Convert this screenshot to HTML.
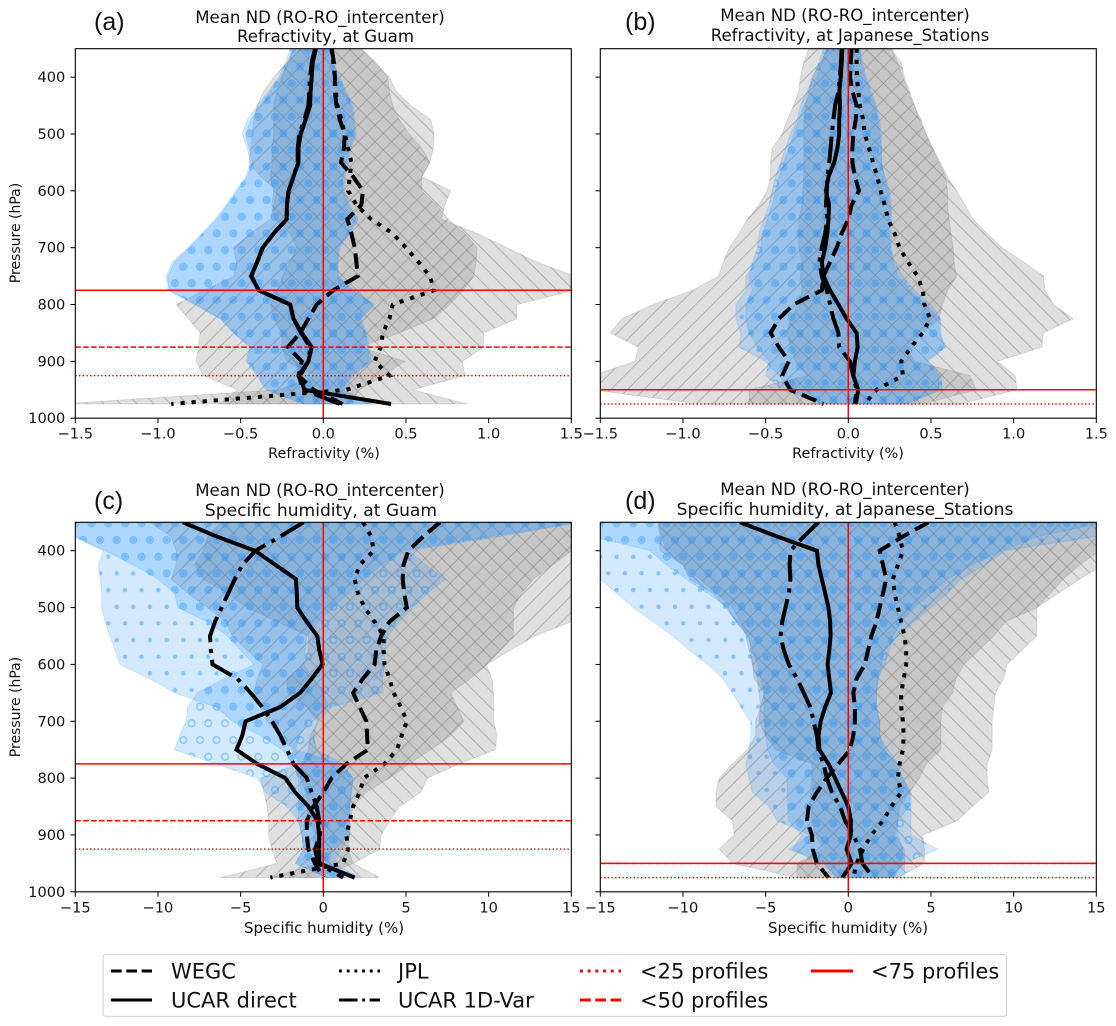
<!DOCTYPE html>
<html lang="en">
<head>
<meta charset="utf-8">
<title>Mean ND RO-RO intercenter profiles</title>
<style>
html,body{margin:0;padding:0;background:#fff;}
body{width:1116px;height:1026px;overflow:hidden;}
svg{display:block;}
text{font-family:"DejaVu Sans","Liberation Sans",sans-serif;fill:#111;}
.panel-tag{font-family:"Liberation Sans",sans-serif;font-size:25px;}
.title{font-size:16.6px;text-anchor:middle;}
.title-big{font-size:17.1px;text-anchor:middle;}
.leg{font-size:21px;}
.axis-label{font-size:14.4px;text-anchor:middle;}
.axis-label-wide{font-size:15px;text-anchor:middle;}
.axis-label-y{font-size:14px;text-anchor:middle;}
.tick{font-size:14.6px;}
</style>
</head>
<body>
<svg id="chart" xmlns="http://www.w3.org/2000/svg" width="1116" height="1026" viewBox="0 0 1116 1026">
<defs>
<pattern id="hatch-slash" patternUnits="userSpaceOnUse" width="16.67" height="16.67">
<path d="M-2,18.67 L18.67,-2 M-2,2 L2,-2 M14.67,18.67 L18.67,14.67" stroke="rgba(110,110,110,.42)" stroke-width="1" fill="none"/>
</pattern>
<pattern id="hatch-back" patternUnits="userSpaceOnUse" width="16.67" height="16.67">
<path d="M-2,-2 L18.67,18.67 M-2,14.67 L2,18.67 M14.67,-2 L18.67,2" stroke="rgba(110,110,110,.42)" stroke-width="1" fill="none"/>
</pattern>
<g id="ring-tile"><circle cx="0" cy="0" r="3.3" fill="none" stroke="rgba(30,144,255,.4)" stroke-width="1.5"/><circle cx="16.67" cy="0" r="3.3" fill="none" stroke="rgba(30,144,255,.4)" stroke-width="1.5"/><circle cx="0" cy="33.33" r="3.3" fill="none" stroke="rgba(30,144,255,.4)" stroke-width="1.5"/><circle cx="16.67" cy="33.33" r="3.3" fill="none" stroke="rgba(30,144,255,.4)" stroke-width="1.5"/><circle cx="8.33" cy="16.67" r="3.3" fill="none" stroke="rgba(30,144,255,.4)" stroke-width="1.5"/></g>
<g id="dot-tile"><circle cx="0" cy="0" r="2.2" fill="rgba(30,144,255,.42)"/><circle cx="16.67" cy="0" r="2.2" fill="rgba(30,144,255,.42)"/><circle cx="0" cy="33.33" r="2.2" fill="rgba(30,144,255,.42)"/><circle cx="16.67" cy="33.33" r="2.2" fill="rgba(30,144,255,.42)"/><circle cx="8.33" cy="16.67" r="2.2" fill="rgba(30,144,255,.42)"/></g>
<pattern id="ring-ab" patternUnits="userSpaceOnUse" width="16.67" height="33.33" patternTransform="translate(183.3 266.7)"><use href="#ring-tile"/></pattern>
<pattern id="dot-ab" patternUnits="userSpaceOnUse" width="16.67" height="33.33" patternTransform="translate(183.3 266.7)"><use href="#dot-tile"/></pattern>
<pattern id="ring-c" patternUnits="userSpaceOnUse" width="16.67" height="33.33" patternTransform="translate(183.3 740)"><use href="#ring-tile"/></pattern>
<pattern id="dot-c" patternUnits="userSpaceOnUse" width="16.67" height="33.33" patternTransform="translate(183.3 740)"><use href="#dot-tile"/></pattern>
<pattern id="ring-d" patternUnits="userSpaceOnUse" width="16.67" height="33.33" patternTransform="translate(750 623.3)"><use href="#ring-tile"/></pattern>
<pattern id="dot-d" patternUnits="userSpaceOnUse" width="16.67" height="33.33" patternTransform="translate(750 623.3)"><use href="#dot-tile"/></pattern>
</defs>

<text class="panel-tag" x="94" y="30">(a)</text>
<text class="panel-tag" x="625" y="30">(b)</text>
<text class="panel-tag" x="94" y="509">(c)</text>
<text class="panel-tag" x="625" y="509">(d)</text>

<text class="title" x="320" y="23">Mean ND (RO-RO_intercenter)</text>
<text class="title" x="325.5" y="42">Refractivity, at Guam</text>
<text class="title" x="845" y="21">Mean ND (RO-RO_intercenter)</text>
<text class="title" x="850" y="41">Refractivity, at Japanese_Stations</text>
<text class="title" x="320" y="496">Mean ND (RO-RO_intercenter)</text>
<text class="title-big" x="321" y="516">Specific humidity, at Guam</text>
<text class="title" x="845" y="495">Mean ND (RO-RO_intercenter)</text>
<text class="title-big" x="845" y="515">Specific humidity, at Japanese_Stations</text>

<text class="axis-label" x="324" y="458">Refractivity (%)</text>
<text class="axis-label" x="848" y="458">Refractivity (%)</text>
<text class="axis-label-wide" x="324" y="933">Specific humidity (%)</text>
<text class="axis-label-wide" x="848" y="933">Specific humidity (%)</text>
<text class="axis-label-y" transform="translate(20 233) rotate(-90)">Pressure (hPa)</text>
<text class="axis-label-y" transform="translate(20 707) rotate(-90)">Pressure (hPa)</text>

<g id="plots"></g>

<g>
<rect x="103" y="954.5" width="903.5" height="62" rx="3" ry="3" fill="#fff" stroke="#d6d6d6" stroke-width="1.2"/>
<line x1="111" y1="971" x2="152" y2="971" stroke="#000" stroke-width="2.9" stroke-dasharray="10.7 4.6"/>
<text class="leg" x="171" y="978.5">WEGC</text>
<line x1="111" y1="1000" x2="152" y2="1000" stroke="#000" stroke-width="2.9"/>
<text class="leg" x="171" y="1007.5">UCAR direct</text>
<line x1="339" y1="971" x2="380" y2="971" stroke="#000" stroke-width="2.9" stroke-dasharray="2.9 4.8"/>
<text class="leg" x="398" y="978.5">JPL</text>
<line x1="339" y1="1000" x2="380" y2="1000" stroke="#000" stroke-width="2.9" stroke-dasharray="18.6 4.6 2.9 4.6"/>
<text class="leg" x="398" y="1007.5">UCAR 1D-Var</text>
<line x1="580" y1="971" x2="621" y2="971" stroke="#f00" stroke-width="2.9" stroke-dasharray="2.9 4.8"/>
<text class="leg" x="640" y="978.5">&lt;25 profiles</text>
<line x1="580" y1="1000" x2="621" y2="1000" stroke="#f00" stroke-width="2.9" stroke-dasharray="10.7 4.6"/>
<text class="leg" x="640" y="1007.5">&lt;50 profiles</text>
<line x1="811" y1="971" x2="853" y2="971" stroke="#f00" stroke-width="2.9"/>
<text class="leg" x="871" y="978.5">&lt;75 profiles</text>
</g>
</svg>

<script>
// Shared vertical axis
const pressureLevels = [350,375,400,425,450,475,500,525,550,575,600,625,650,675,700,725,750,775,800,825,850,875,900,925,950,975];
const pressureTicks = [400,500,600,700,800,900,1000];
const refractivityTicks = [-1.5,-1.0,-0.5,0.0,0.5,1.0,1.5];
const refractivityTickLabels = ["\u22121.5","\u22121.0","\u22120.5","0.0","0.5","1.0","1.5"];
const humidityTicks = [-15,-10,-5,0,5,10,15];
const humidityTickLabels = ["\u221215","\u221210","\u22125","0","5","10","15"];

// Panel (a) Refractivity at Guam
const aWegc = [.05,.065,.07,.07,.08,.10,.13,.125,.107,.18,.24,.23,.145,.17,.19,.20,.208,.06,-.04,-.09,-.14,-.215,-.13,-.15,-.06,.117];
const aDirect = [-.045,-.065,-.07,-.077,-.08,-.107,-.137,-.15,-.15,-.18,-.21,-.22,-.222,-.30,-.367,-.40,-.437,-.39,-.2,-.18,-.13,-.07,-.09,-.14,-.115,.41];
const aJpl = [.05,.06,.07,.075,.085,.11,.13,.15,.17,.16,.15,.20,.29,.42,.50,.575,.645,.67,.42,.40,.36,.347,.31,.40,.14,-.92];
const aVar = [-.05,-.07,-.08,-.085,-.09,-.115,-.145,-.155,-.155,-.18,-.21,-.22,-.22,-.30,-.365,-.40,-.435,-.39,-.2,-.18,-.135,-.08,-.09,-.15,-.12,.10];
const aSlashLo = [-.14,-.22,-.30,-.36,-.40,-.42,-.43,-.44,-.45,-.38,-.28,-.30,-.32,-.44,-.545,-.525,-.54,-.72,-.89,-.815,-.745,-.755,-.77,-.725,-.52,-.625];
const aSlashHi = [.23,.32,.39,.40,.42,.46,.52,.595,.645,.595,.595,.685,.755,.855,.93,.925,.91,.845,.765,.665,.46,.22,.495,.36,.22,.16];
const aBackLo = [-.18,-.22,-.25,-.28,-.30,-.30,-.30,-.31,-.31,-.32,-.30,-.31,-.29,-.20,-.16,-.20,-.245,-.28,-.32,-.30,-.25,-.25,-.22,-.05,-.26,-1.6];
const aBackHi = [.23,.31,.40,.44,.53,.65,.67,.665,.645,.595,.77,.735,.715,.93,1.11,1.29,1.52,1.52,1.17,1.17,.97,.97,.84,.857,.54,.87];
const aRingLo = [-.18,-.21,-.26,-.32,-.38,-.44,-.47,-.45,-.43,-.46,-.52,-.58,-.645,-.725,-.81,-.90,-.94,-.94,-.78,-.625,-.545,-.445,-.47,-.40,-.35,-.12];
const aRingHi = [.04,.04,.09,.13,.17,.18,.19,.16,.14,.12,.115,.15,.20,.15,.09,.085,.09,.18,.31,.23,.26,.28,.29,.18,.12,.30];
const aDotLo = [-.20,-.23,-.27,-.33,-.40,-.46,-.49,-.46,-.44,-.47,-.53,-.59,-.655,-.735,-.82,-.91,-.95,-.93,-.77,-.62,-.54,-.44,-.46,-.39,-.34,-.12];
const aDotHi = [.05,.06,.10,.14,.18,.19,.20,.17,.15,.13,.125,.16,.21,.16,.10,.09,.09,.18,.30,.22,.25,.27,.28,.17,.11,.28];

// Panel (b) Refractivity at Japanese stations
const bWegc = [.02,.015,.01,.025,.05,.045,.03,.025,.025,.04,.065,.02,0,-.04,-.07,-.11,-.15,-.16,-.33,-.42,-.47,-.42,-.36,-.40,-.35,-.15];
const bDirect = [-.036,-.04,-.046,-.054,-.05,-.055,-.055,-.066,-.085,-.12,-.135,-.117,-.12,-.127,-.14,-.16,-.15,-.11,-.06,-.01,.05,.056,.04,.03,.06,.046];
const bJpl = [.05,.05,.052,.06,.07,.09,.10,.125,.15,.175,.195,.22,.24,.28,.31,.36,.42,.45,.46,.495,.45,.38,.32,.33,.17,.10];
const bVar = [-.04,-.045,-.05,-.06,-.08,-.09,-.10,-.107,-.115,-.127,-.13,-.135,-.127,-.14,-.16,-.175,-.16,-.13,-.11,-.09,-.06,-.055,.01,.03,.05,.04];
const bSlashLo = [-.24,-.27,-.29,-.30,-.33,-.37,-.40,-.46,-.47,-.47,-.49,-.54,-.61,-.66,-.72,-.755,-.785,-.94,-1.18,-1.37,-1.44,-1.27,-1.29,-1.55,-1.55,-.90];
const bSlashHi = [.26,.30,.33,.36,.40,.43,.47,.51,.55,.59,.60,.60,.61,.62,.635,.64,.655,.60,.57,.55,.45,.35,.40,.735,.775,.45];
const bBackLo = [-.13,-.17,-.22,-.24,-.26,-.27,-.27,-.27,-.27,-.27,-.275,-.28,-.30,-.30,-.30,-.28,-.29,-.28,-.30,-.35,-.37,-.35,-.32,-.25,-.60,-.60];
const bBackHi = [.26,.32,.34,.37,.40,.44,.47,.51,.555,.60,.655,.705,.755,.84,.93,1.06,1.18,1.19,1.24,1.36,1.18,1.17,.90,1.01,1.02,.675];
const bRingLo = [-.15,-.18,-.21,-.25,-.29,-.31,-.35,-.38,-.41,-.44,-.46,-.48,-.51,-.54,-.55,-.58,-.60,-.58,-.62,-.62,-.60,-.55,-.48,-.50,-.40,-.15];
const bRingHi = [.07,.08,.10,.13,.16,.18,.19,.20,.20,.22,.25,.26,.26,.26,.26,.28,.33,.40,.50,.56,.56,.58,.47,.55,.55,.35];
const bDotLo = [-.13,-.16,-.19,-.22,-.27,-.30,-.33,-.36,-.39,-.42,-.44,-.46,-.49,-.52,-.53,-.56,-.62,-.62,-.68,-.68,-.65,-.66,-.50,-.42,-.35,-.15];
const bDotHi = [.07,.085,.11,.14,.17,.19,.20,.20,.20,.22,.24,.25,.25,.25,.25,.27,.30,.37,.47,.55,.55,.59,.48,.56,.57,.35];

// Panel (c) Specific humidity at Guam
const cWegc = [7.05,6.05,5.15,4.85,4.8,4.9,5.05,4,3.5,3.2,3.1,2.4,1.8,2.2,2.6,2.65,2.7,1.4,.5,0,-.6,-1,-1,-.9,-.5,0];
const cDirect = [-8.5,-6.45,-4.13,-2.9,-1.65,-1.6,-1.57,-1,-.36,-.24,-.04,-.7,-1.4,-2.6,-4.7,-4.9,-5.25,-4,-2.3,-1.7,-.9,-.35,-.25,-.25,-.25,1.9];
const cJpl = [2.4,2.9,3.05,2.2,1.9,2.1,2.5,3.1,3.65,3.65,3.7,4,4.25,4.7,5.05,4.75,4.45,3.7,2.45,2.2,1.8,1.6,1.4,1.5,1.2,-3.2];
const cVar = [-1.2,-2.6,-4.1,-4.9,-5.35,-5.75,-6.15,-6.55,-6.85,-6.8,-6.7,-5.2,-4.4,-3.7,-3.1,-2.6,-2.2,-1.8,-1,-.7,-.4,-.25,-.2,-.5,-.3,1.2];
const cSlashLo = [-10.5,-9.2,-8.9,-8.9,-9.2,-8.2,-7,-5.9,-5.5,-4.6,-3.65,-4,-4.2,-3.8,-3.4,-2.6,-1.8,-1.5,-3.8,-3.6,-3.4,-3.3,-3.3,-3.1,-2.8,-6.2];
const cSlashHi = [15.5,15.5,15.5,15.5,15.5,15.5,15.5,15,12.8,11.3,9.9,8.9,7.7,8.1,8.5,7.7,6.5,5.2,4,2.6,1.8,1.6,1.6,1.5,1.8,-.4];
const cBackLo = [-6.2,-7,-7.25,-7.8,-7.25,-5.8,-4.6,-2.8,-.9,-.9,-1.2,-2.2,-2.2,-1,-.3,-.8,-.9,-1.3,-1.4,-1,-1,-.9,-.4,0,-.3,-3.2];
const cBackHi = [15.5,15.5,15,13.9,12.7,12,11.5,11.5,11.5,10.7,9.85,10.2,10.3,10.3,10.3,10.5,10.4,8.2,6.3,5.9,4.6,4,3.5,3.4,1.8,3.4];
const cRingLo = [-15.5,-15.2,-13.2,-11.5,-10,-9,-8.8,-7,-5.8,-5,-4.2,-6,-7.6,-8.2,-8.3,-8.7,-9,-6.5,-4,-3.5,-2.2,-1.5,-1.3,-1.2,-1.7,.2];
const cRingHi = [15.5,10.7,5.2,6.2,7.4,6.3,5.4,4.6,3.9,3.7,3.7,3.6,3.6,.5,-.3,-.6,-.4,1.2,1.8,1.7,1.6,1.6,1.6,1.1,.6,2.2];
const cDotLo = [-15.5,-15,-13.3,-13.6,-13.5,-13.4,-13.4,-13.2,-12.9,-12.6,-12.3,-10.5,-9,-6.5,-5.5,-3.8,-2.5,-1.8,-1.5,-1.5,-1.5,-1.5,-1.3,-1.2,-1.7,.2];
const cDotHi = [15.5,10,4.8,3.5,2.5,1.5,.6,-.3,-1,-1.1,-1.2,-.6,0,.3,-.9,-1.4,-1.7,1,1.8,1.7,1.6,1.5,1.4,.5,.4,1.3];

// Panel (d) Specific humidity at Japanese stations
const dWegc = [4.85,3.3,1.9,2.1,2.3,2.1,1.9,1.7,1.4,1.2,1,.5,.3,.4,.4,.3,.1,-.6,-1.3,-1.9,-2.4,-2.5,-2.2,-2.15,-1.9,-1.2];
const dDirect = [-6.55,-4.3,-1.9,-1.8,-1.6,-1.4,-1.2,-1.1,-1.07,-1.15,-1.25,-1.15,-1.05,-1.4,-1.67,-1.8,-1.75,-1.2,-.8,-.4,0,.15,.15,-.1,.2,-.35];
const dJpl = [2.8,3.1,3.3,3,2.7,2.8,3,3.2,3.4,3.5,3.5,3.35,3.2,3.2,3.3,3.35,3.3,3.1,3,3.2,2.6,2.1,1.4,.9,.5,.3];
const dVar = [-1.8,-2.7,-3.5,-3.55,-3.5,-3.6,-3.8,-4,-4.1,-3.9,-3.6,-3.1,-2.7,-2.3,-2.1,-1.9,-1.8,-1.5,-1.3,-1,-.5,-.2,.3,.7,.85,1.5];
const dSlashLo = [-11.5,-11.3,-11,-10,-9,-8,-7,-6.5,-6.2,-6,-5.8,-5.5,-5.4,-5.3,-5.6,-5.6,-6.1,-7,-7.8,-8,-8,-7,-6.9,-7.8,-7,-3.1];
const dSlashHi = [15.5,15.5,15.2,14,13,12.2,11.4,9.5,8.8,7.9,7,6.5,6.3,5.7,5.6,5.6,5.6,4.7,4.3,3.7,3.1,3,2.8,3.4,3.4,2.5];
const dBackLo = [-11.5,-11.4,-11.4,-10,-9.6,-8.2,-7.4,-6.8,-6,-5.9,-5.8,-5.7,-5.1,-5.3,-5.4,-5,-4.4,-2.2,-2.2,-2.3,-2.3,-2.2,-2,-1.5,-3.1,-3.1];
const dBackHi = [15.5,15.5,15.5,15.4,14,12.7,11.4,11.4,11.4,10.5,9.6,9.4,8.9,8.8,8.7,8.7,8.7,8.4,8.4,8.5,7.5,6.6,4.5,4.6,4.6,3];
const dRingLo = [-15.5,-15.5,-12,-11,-9.8,-8.5,-7.3,-6.8,-6.1,-5.8,-5.5,-5.3,-5.1,-5.1,-5.1,-5,-4.9,-4.5,-3.7,-3.7,-3.7,-3.6,-2.8,-3.4,-1.5,-.7];
const dRingHi = [15.5,11.5,9.3,7.5,6,5,4,3.2,2.7,2.5,2.2,1.8,1.7,1.7,1.9,1.9,2.4,3,3.3,3.8,3.8,3.8,3.8,5.4,3.4,3.4];
const dDotLo = [-15.5,-15.5,-15.5,-15.5,-15,-14,-13,-11.8,-10.6,-9.6,-8.5,-7.6,-7,-6.5,-5.9,-5.9,-6,-6.2,-6,-5.8,-4.8,-4.3,-2.3,-3.6,-1.5,-.7];
const dDotHi = [15.5,15,9.5,8.3,6.8,6,5,4,3,2.2,2,1.8,1.7,1.7,1.9,1.9,2.2,2.8,3.3,3.7,3.7,3,3,3.3,3.2,2.8];

// Profile-count thresholds (hPa)
const guamThresholds = [775,875,925];
const japanThresholds = [950,950,975];

const NS = "http://www.w3.org/2000/svg";
const plots = document.getElementById("plots");
const PANEL_W = 496;
const PANEL_H = 369.5;
const P_TOP = 350;
const P_BOTTOM = 1000;

function make(tag, attrs, parent) {
  const el = document.createElementNS(NS, tag);
  for (const k in attrs) el.setAttribute(k, attrs[k]);
  parent.appendChild(el);
  return el;
}

function drawPanel(cfg) {
  const xScale = v => cfg.left + (v - cfg.xMin) / (cfg.xMax - cfg.xMin) * PANEL_W;
  const yScale = p => cfg.top + (p - P_TOP) / (P_BOTTOM - P_TOP) * PANEL_H;
  const right = cfg.left + PANEL_W;
  const bottom = cfg.top + PANEL_H;

  const group = make("g", {}, plots);
  
  

  const clip = make("clipPath", {id: "clip-" + cfg.id}, group);
  make("rect", {x: cfg.left, y: cfg.top, width: PANEL_W, height: PANEL_H}, clip);

  const inner = make("g", {"clip-path": "url(#clip-" + cfg.id + ")"}, group);

  function bandPath(lo, hi) {
    let d = "";
    pressureLevels.forEach((p, i) => { d += (i ? "L" : "M") + xScale(lo[i]).toFixed(1) + "," + yScale(p).toFixed(1); });
    for (let i = pressureLevels.length - 1; i >= 0; i--) {
      d += "L" + xScale(hi[i]).toFixed(1) + "," + yScale(pressureLevels[i]).toFixed(1);
    }
    return d + "Z";
  }

  cfg.bands.forEach(band => {
    const d = bandPath(band.lo, band.hi);
    const fill = make("path", {d: d, fill: band.fill, stroke: band.edge, "stroke-width": 1}, inner);
    
    
    const hatch = make("path", {d: d, fill: "url(#" + band.pattern + ")"}, inner);
    
    
  });

  cfg.series.forEach(s => {
    const pts = pressureLevels.map((p, i) => xScale(s.values[i]).toFixed(1) + "," + yScale(p).toFixed(1)).join(" ");
    const line = make("polyline", {points: pts, fill: "none", stroke: "#000", "stroke-width": 4, "stroke-dasharray": s.dash, "stroke-linejoin": "miter"}, inner);
    
    
  });

  const zero = make("line", {x1: xScale(0), x2: xScale(0), y1: cfg.top, y2: bottom, stroke: "#f00", "stroke-width": 1.5}, inner);
  
  

  const thresholdStyles = [{name: "75-profiles", dash: "none"}, {name: "50-profiles", dash: "5.5 2.4"}, {name: "25-profiles", dash: "1.4 2.3"}];
  cfg.thresholds.forEach((p, i) => {
    const line = make("line", {x1: cfg.left, x2: right, y1: yScale(p), y2: yScale(p), stroke: "#f00", "stroke-width": 1.5, "stroke-dasharray": thresholdStyles[i].dash}, inner);
    
    
  });

  pressureTicks.forEach(p => {
    const tick = make("line", {x1: cfg.left - 4.9, x2: cfg.left, y1: yScale(p), y2: yScale(p), stroke: "#000", "stroke-width": 1}, group);
    
    
    if (cfg.yLabels) {
      const label = make("text", {x: cfg.left - 10, y: yScale(p) + 5, "text-anchor": "end", class: "tick"}, group);
      label.textContent = p;
      
      
    }
  });

  cfg.xTicks.forEach((v, i) => {
    const tick = make("line", {x1: xScale(v), x2: xScale(v), y1: bottom, y2: bottom + 4.9, stroke: "#000", "stroke-width": 1}, group);
    
    
    const label = make("text", {x: xScale(v), y: bottom + 20.5, "text-anchor": "middle", class: "tick"}, group);
    label.textContent = cfg.xTickLabels[i];
    
    
  });

  const frame = make("rect", {x: cfg.left, y: cfg.top, width: PANEL_W, height: PANEL_H, fill: "none", stroke: "#000", "stroke-width": 1.1}, group);
  
  
}

const GRAY = "rgba(128,128,128,.25)";
const GRAY_EDGE = "rgba(128,128,128,.22)";
const BLUE = "rgba(30,144,255,.2)";
const BLUE_EDGE = "rgba(30,144,255,.16)";

function styleBands(sl, sh, bl, bh, rl, rh, dl, dh, ring, dot) {
  return [
    {name: "wegc", lo: sl, hi: sh, fill: GRAY, edge: GRAY_EDGE, pattern: "hatch-slash"},
    {name: "jpl", lo: bl, hi: bh, fill: GRAY, edge: GRAY_EDGE, pattern: "hatch-back"},
    {name: "ucar-direct", lo: rl, hi: rh, fill: BLUE, edge: BLUE_EDGE, pattern: ring},
    {name: "ucar-1d-var", lo: dl, hi: dh, fill: BLUE, edge: BLUE_EDGE, pattern: dot}
  ];
}
function styleSeries(w, u, j, v) {
  return [
    {name: "ucar-1d-var", values: v, dash: "26.7 6.7 4.2 6.7"},
    {name: "jpl", values: j, dash: "4.2 6.9"},
    {name: "wegc", values: w, dash: "15.4 6.7"},
    {name: "ucar-direct", values: u, dash: "none"}
  ];
}

drawPanel({id: "panel-a", left: 75.3, top: 48.7, xMin: -1.5, xMax: 1.5, yLabels: true,
  xTicks: refractivityTicks, xTickLabels: refractivityTickLabels, thresholds: guamThresholds,
  bands: styleBands(aSlashLo, aSlashHi, aBackLo, aBackHi, aRingLo, aRingHi, aDotLo, aDotHi, "ring-ab", "dot-ab"),
  series: styleSeries(aWegc, aDirect, aJpl, aVar)});
drawPanel({id: "panel-b", left: 600.3, top: 48.7, xMin: -1.5, xMax: 1.5, yLabels: false,
  xTicks: refractivityTicks, xTickLabels: refractivityTickLabels, thresholds: japanThresholds,
  bands: styleBands(bSlashLo, bSlashHi, bBackLo, bBackHi, bRingLo, bRingHi, bDotLo, bDotHi, "ring-ab", "dot-ab"),
  series: styleSeries(bWegc, bDirect, bJpl, bVar)});
drawPanel({id: "panel-c", left: 75.3, top: 522.3, xMin: -15, xMax: 15, yLabels: true,
  xTicks: humidityTicks, xTickLabels: humidityTickLabels, thresholds: guamThresholds,
  bands: styleBands(cSlashLo, cSlashHi, cBackLo, cBackHi, cRingLo, cRingHi, cDotLo, cDotHi, "ring-c", "dot-c"),
  series: styleSeries(cWegc, cDirect, cJpl, cVar)});
drawPanel({id: "panel-d", left: 600.3, top: 522.3, xMin: -15, xMax: 15, yLabels: false,
  xTicks: humidityTicks, xTickLabels: humidityTickLabels, thresholds: japanThresholds,
  bands: styleBands(dSlashLo, dSlashHi, dBackLo, dBackHi, dRingLo, dRingHi, dDotLo, dDotHi, "ring-d", "dot-d"),
  series: styleSeries(dWegc, dDirect, dJpl, dVar)});
</script>
</body>
</html>
